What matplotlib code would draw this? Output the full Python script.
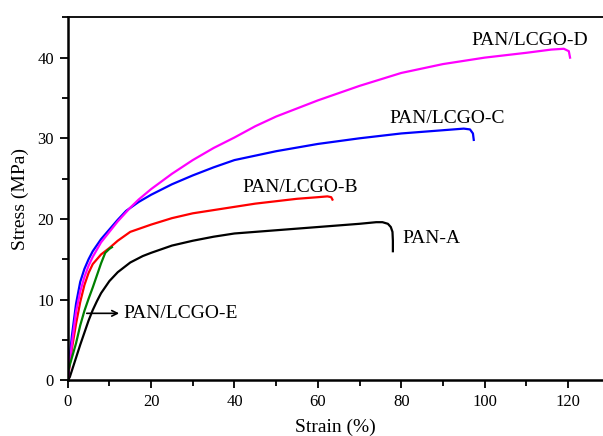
import matplotlib
matplotlib.use("Agg")
import matplotlib.pyplot as plt
from matplotlib.ticker import MultipleLocator

# ---- data ----
pan_a_x = [0, 0.5, 1, 2, 3, 4, 5, 6, 7, 8, 10, 12, 15, 18, 20, 25, 30, 35, 40, 45, 50, 55, 60, 65, 70, 72, 74, 75.5, 76.8, 77.5, 77.9, 78.0, 78.0]
pan_a_y = [0, 0.4, 1.2, 2.8, 4.4, 5.9, 7.4, 8.7, 9.8, 10.8, 12.3, 13.4, 14.6, 15.4, 15.8, 16.7, 17.3, 17.8, 18.2, 18.4, 18.6, 18.8, 19.0, 19.2, 19.4, 19.5, 19.6, 19.6, 19.4, 19.0, 18.4, 17.3, 16.0]

b_x = [0, 0.5, 1, 2, 3, 4, 5, 6, 8, 10, 12, 15, 20, 25, 30, 35, 40, 45, 50, 55, 60, 62.3, 63.2, 63.5]
b_y = [0, 2.0, 3.9, 7.0, 9.7, 11.8, 13.3, 14.4, 15.6, 16.4, 17.3, 18.4, 19.3, 20.1, 20.7, 21.1, 21.5, 21.9, 22.2, 22.5, 22.7, 22.8, 22.7, 22.4]

c_x = [0, 0.5, 1, 2, 3, 4, 5, 6, 8, 10, 12, 14, 17, 20, 25, 30, 35, 40, 50, 60, 70, 80, 90, 95, 96.5, 97.2, 97.4]
c_y = [0, 3.0, 5.5, 9.5, 12.2, 13.8, 15.0, 16.0, 17.5, 18.7, 19.9, 21.0, 22.1, 23.0, 24.3, 25.4, 26.4, 27.3, 28.4, 29.3, 30.0, 30.6, 31.0, 31.2, 31.1, 30.6, 29.8]

d_x = [0, 0.5, 1, 2, 3, 4, 5, 6, 8, 10, 12, 15, 17, 20, 25, 30, 35, 40, 45, 50, 60, 70, 80, 90, 100, 110, 116, 119, 120.2, 120.5]
d_y = [0, 2.3, 4.5, 8.5, 11.0, 12.8, 14.2, 15.3, 17.1, 18.4, 19.7, 21.4, 22.4, 23.7, 25.6, 27.3, 28.8, 30.1, 31.5, 32.7, 34.7, 36.5, 38.1, 39.2, 40.0, 40.6, 41.0, 41.1, 40.8, 40.0]

e_x = [0, 1, 2, 3, 4, 5, 6, 7, 8, 9, 10, 10.6]
e_y = [1.0, 2.8, 4.6, 6.8, 8.6, 10.1, 11.5, 13.0, 14.5, 15.8, 16.3, 16.5]

x_ticks = [0, 20, 40, 60, 80, 100, 120]
y_ticks = [0, 10, 20, 30, 40]

plt.rcParams['font.family'] = ['Liberation Serif', 'DejaVu Serif']

fig = plt.figure(figsize=(6.03, 4.36), dpi=100)
ax = fig.add_axes([0.1123, 0.1278, 0.8877, 0.8325])

lw = 1.6
ax.plot(pan_a_x, pan_a_y, color='black', lw=lw)
ax.plot(b_x, b_y, color='#ff0000', lw=lw)
ax.plot(c_x, c_y, color='#0000ff', lw=lw)
ax.plot(d_x, d_y, color='#ff00ff', lw=lw)
ax.plot(e_x, e_y, color='#008000', lw=lw)

ax.set_xlim(0, 128.4)
ax.set_ylim(0, 45)
ax.set_xticks(x_ticks)
ax.set_yticks(y_ticks)
ax.xaxis.set_minor_locator(MultipleLocator(10))
ax.yaxis.set_minor_locator(MultipleLocator(5))
ax.tick_params(which='major', direction='out', length=6, width=1.3, labelsize=12, pad=4)
ax.tick_params(which='minor', direction='out', length=4, width=1.3)

ax.spines['right'].set_visible(False)
ax.spines['left'].set_linewidth(1.8)
ax.spines['bottom'].set_linewidth(1.8)
ax.spines['top'].set_linewidth(1.3)

ax.set_xlabel('Strain (%)', fontsize=14, labelpad=6)
ax.set_ylabel('Stress (MPa)', fontsize=14, labelpad=6)

fs = 14
ax.text(110.9, 42.1, 'PAN/LCGO-D', fontsize=fs, ha='center', va='center')
ax.text(91.0, 32.4, 'PAN/LCGO-C', fontsize=fs, ha='center', va='center')
ax.text(55.8, 23.9, 'PAN/LCGO-B', fontsize=fs, ha='center', va='center')
ax.text(80.2, 17.6, 'PAN-A', fontsize=fs, ha='left', va='center')
ax.text(13.3, 8.3, 'PAN/LCGO-E', fontsize=fs, ha='left', va='center')
ax.annotate('', xy=(13.0, 8.3), xytext=(3.9, 8.3),
            arrowprops=dict(arrowstyle='->', color='black', lw=1.2))

fig.savefig('out.png', dpi=100)
